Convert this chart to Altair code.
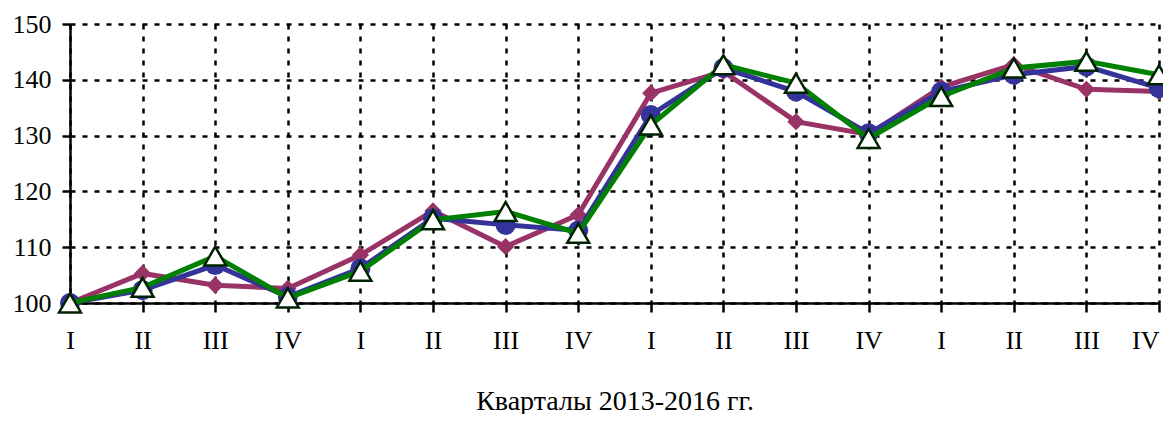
import altair as alt
import pandas as pd

quarters = list(range(1, 17))
quarter_labels = ["I", "II", "III", "IV"] * 4

blue_values = [100, 102.3, 106.8, 101.1, 106.2, 115.2, 114.0, 113.0,
               133.7, 142.1, 137.9, 130.4, 137.9, 140.9, 142.4, 138.5]
purple_values = [100, 105.3, 103.2, 102.6, 108.6, 116.5, 110.1, 115.8,
                 137.6, 141.5, 132.5, 130.2, 138.7, 142.7, 138.3, 137.9]
green_values = [100, 102.8, 108.4, 100.9, 105.7, 114.9, 116.4, 112.5,
                131.9, 142.7, 139.4, 129.5, 137.0, 142.1, 143.3, 140.9]

FONT = "Liberation Serif"

def frame(vals, name):
    return pd.DataFrame({"q": quarters, "v": vals, "s": name})

x_enc = alt.X(
    "q:Q",
    scale=alt.Scale(domain=[1, 16], nice=False, zero=False),
    axis=alt.Axis(
        values=quarters,
        labelExpr="['I','II','III','IV'][(datum.value - 1) % 4]",
        title="Кварталы 2013-2016 гг.",
        titleFont=FONT, titleFontSize=28, titleFontWeight="normal", titleColor="black",
        titleY=106, titleBaseline="alphabetic",
        labelFont=FONT, labelFontSize=26, labelColor="black", labelPadding=15,
        labelFlush=False,
        labelAlign={"condition": {"test": "datum.value == 16", "value": "right"},
                    "value": "center"},
        domainColor="black", domainWidth=2.5,
        tickColor="black", tickWidth=2.5, tickSize=9,
        grid=True, gridColor="black", gridDash=[5, 7], gridWidth=2.5,
    ),
)
y_enc = alt.Y(
    "v:Q",
    scale=alt.Scale(domain=[100, 150], nice=False, zero=False),
    axis=alt.Axis(
        values=[100, 110, 120, 130, 140, 150],
        title=None,
        labelFont=FONT, labelFontSize=26, labelColor="black", labelPadding=11,
        labelFlush=False,
        domainColor="black", domainWidth=2.5,
        tickColor="black", tickWidth=2.5, tickSize=8,
        grid=True, gridColor="black", gridDash=[5, 7], gridWidth=2.5,
    ),
)

def series(vals, name, color, shape, size, fill, stroke, sw):
    base = alt.Chart(frame(vals, name)).encode(x=x_enc, y=y_enc)
    line = base.mark_line(color=color, strokeWidth=5)
    pts = base.mark_point(shape=shape, size=size, filled=True, fill=fill,
                          stroke=stroke, strokeWidth=sw, opacity=1)
    return [line, pts]

layers = []
layers += series(purple_values, "purple", "#993366", "diamond", 300, "#993366", "#993366", 0)
layers += series(blue_values, "blue", "#333399", "circle", 400, "#333399", "#333399", 0)
layers += series(green_values, "green", "#008000", "triangle-up", 480, "white", "#002200", 2.5)

chart = alt.layer(*layers).properties(
    width=1089, height=279,
    autosize=alt.AutoSizeParams(type="none"),
    padding={"left": 62, "top": 16, "right": 4, "bottom": 111},
).configure_view(stroke=None)

chart.save("out.html", embed_options={"renderer": "svg", "actions": False})
